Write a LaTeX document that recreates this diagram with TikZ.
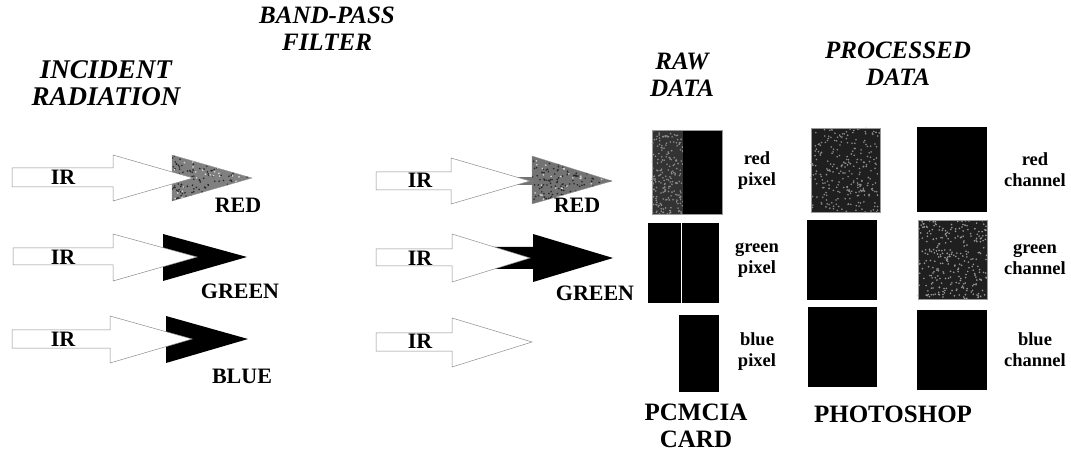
\documentclass[tikz,border=0pt]{standalone}
\usepackage{fontspec}
\setmainfont{Liberation Serif}
\newcommand{\specks}[6]{%
  \foreach \k in {1,...,#5}{%
    \pgfmathsetmacro\rx{#1+rnd*(#3-#1)}%
    \pgfmathsetmacro\ry{#2+rnd*(#4-#2)}%
    \fill[#6] (\rx,\ry) circle (0.9pt);
  }}
\tikzset{
  warrow/.style={fill=white, draw=black!45, line width=0.5pt, line join=miter},
  lab/.style={font=\bfseries\fontsize{22}{24}\selectfont, inner sep=0pt},
  title/.style={font=\bfseries\itshape\fontsize{25}{27}\selectfont, align=center, inner sep=0pt},
  bigtitle/.style={title, font=\bfseries\itshape\fontsize{27}{27}\selectfont},
  small/.style={font=\bfseries\fontsize{18.5}{21}\selectfont, align=center, inner sep=0pt},
  bottom/.style={font=\bfseries\fontsize{25}{27}\selectfont, align=center, inner sep=0pt},
  blk/.style={fill=black},
}
\begin{document}
\begin{tikzpicture}[x=1pt,y=-1pt]
\pgfmathsetseed{7}
\useasboundingbox (0,0) rectangle (1071,462);
% ---------- titles
\node[bigtitle] (t1) at (106,83) {INCIDENT\\RADIATION};
\node[title] (t2) at (327,29) {BAND-PASS\\FILTER};
\node[title] (t3) at (682,75) {RAW\\DATA};
\node[title] (t4) at (898,64) {PROCESSED\\DATA};

% ---------- left column arrows
% row 1 (red)
\begin{scope}
  \clip (172,155) -- (252,178) -- (172,201) -- cycle;
  \fill[black!50] (170,150) rectangle (255,205);
  \specks{170}{150}{255}{205}{220}{black!85}
  \specks{170}{150}{255}{205}{60}{black!15}
\end{scope}
\draw[black!40, line width=0.4pt] (172,155) -- (252,178) -- (172,201) -- cycle;
\draw[warrow] (12,168) -- (113,168) -- (113,155) -- (193,178) -- (113,201) -- (113,187) -- (12,187) -- cycle;
% row 2 (green)
\fill[blk] (163,234) -- (247,257) -- (163,281) -- cycle;
\draw[warrow] (13,248) -- (113,248) -- (113,234) -- (197,257) -- (113,281) -- (113,265) -- (13,265) -- cycle;
% row 3 (blue)
\fill[blk] (166,316) -- (248,339) -- (166,363) -- cycle;
\draw[warrow] (12,330) -- (110,330) -- (110,316) -- (192,339) -- (110,363) -- (110,348) -- (12,348) -- cycle;

\node[lab] (ir1) at (63,177) {IR};
\node[lab] (ir2) at (63,257) {IR};
\node[lab] (ir3) at (63,339) {IR};
\node[lab] (red1) at (238,205) {RED};
\node[lab] (green1) at (240,291) {GREEN};
\node[lab] (blue1) at (242,376) {BLUE};

% ---------- middle column arrows
% row 1 (red)
\fill[black!55] (502,177) rectangle (533,185);
\begin{scope}
  \clip (532,156) -- (612,181) -- (532,204) -- cycle;
  \fill[black!55] (530,150) rectangle (615,208);
  \specks{530}{150}{615}{208}{240}{black!85}
  \specks{530}{150}{615}{208}{60}{black!15}
\end{scope}
\draw[black!40, line width=0.4pt] (532,156) -- (612,181) -- (532,204) -- cycle;
\draw[warrow] (376,172) -- (451,172) -- (451,158) -- (530,181) -- (451,204) -- (451,190) -- (376,190) -- cycle;
% row 2 (green)
\fill[blk] (490,247) -- (533,247) -- (533,234) -- (613,258) -- (533,282) -- (533,269) -- (490,269) -- cycle;
\draw[warrow] (376,249) -- (452,249) -- (452,234) -- (530,258) -- (452,282) -- (452,266) -- (376,266) -- cycle;
% row 3 (blue: nothing passes)
\draw[warrow] (376,333) -- (452,333) -- (452,318) -- (532,342) -- (452,367) -- (452,351) -- (376,351) -- cycle;

\node[lab] (ir4) at (420,180) {IR};
\node[lab] (ir5) at (420,258) {IR};
\node[lab] (ir6) at (420,341) {IR};
\node[lab] (red2) at (577,205) {RED};
\node[lab] (green2) at (595,293) {GREEN};

% ---------- raw data (PCMCIA card)
% red pixel
\fill[black!80] (652,130) rectangle (683,214);
\specks{652}{130}{683}{214}{200}{black!45}
\fill[blk] (683,130) rectangle (722,214);
\draw[black!40, line width=0.5pt] (652,130) rectangle (722,214);
% green pixel
\fill[blk] (648,223) rectangle (680.5,303);
\fill[blk] (682,223) rectangle (719,303);
% blue pixel
\fill[blk] (679,315) rectangle (719,392);

\node[small] (rp) at (757,171) {red\\pixel};
\node[small] (gp) at (757,260) {green\\pixel};
\node[small] (bp) at (757,352) {blue\\pixel};

% ---------- processed data (Photoshop)
\fill[black!88] (811,128) rectangle (880,212);
\specks{811}{128}{880}{212}{260}{black!45}
\draw[black!40, line width=0.5pt] (811,128) rectangle (880,212);
\fill[blk] (807,220) rectangle (877,300);
\fill[blk] (808,307) rectangle (877,387);

\fill[blk] (917,127) rectangle (987,212);
\fill[black!88] (918,220) rectangle (987,299);
\specks{918}{220}{987}{299}{280}{black!40}
\draw[black!40, line width=0.5pt] (918,220) rectangle (987,299);
\fill[blk] (917,310) rectangle (987,390);

\node[small] (rc) at (1035,170) {red\\channel};
\node[small] (gc) at (1035,259) {green\\channel};
\node[small] (bc) at (1035,350) {blue\\channel};

% ---------- bottom captions
\node[bottom] (pc) at (696,426) {PCMCIA\\CARD};
\node[bottom] (ps) at (893,414) {PHOTOSHOP};
\end{tikzpicture}
\end{document}
